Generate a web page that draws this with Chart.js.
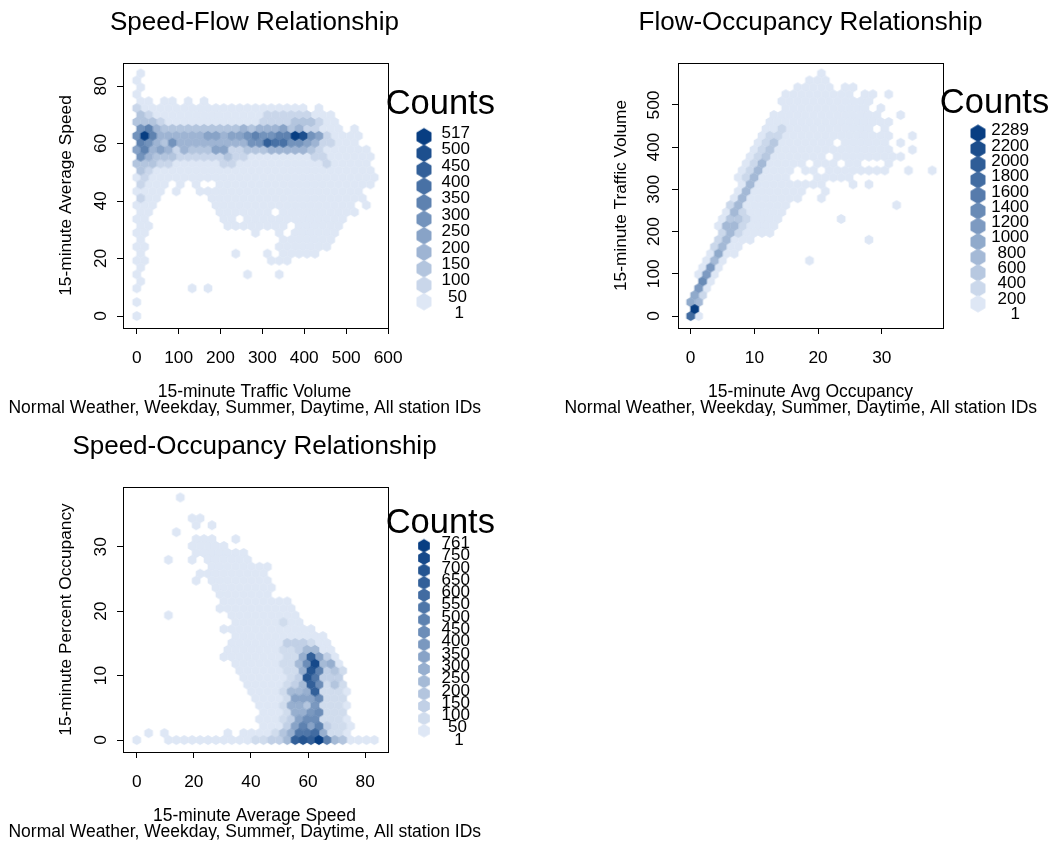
<!DOCTYPE html>
<html>
<head>
<meta charset="utf-8">
<title>Traffic hexbin plots</title>
<script src="https://cdn.jsdelivr.net/npm/chart.js@4"></script>
<style>
  html, body { margin: 0; padding: 0; background: #fff; overflow: hidden; width: 1052px; height: 846px; }
  canvas { position: absolute; }
</style>
</head>
<body>
<canvas id="speedFlow" width="509" height="416" style="left:0;top:0"></canvas>
<canvas id="flowOcc" width="511" height="416" style="left:555px;top:0"></canvas>
<canvas id="speedOcc" width="509" height="416" style="left:0;top:424px"></canvas>
<script>
"use strict";

// 1: data. Rows run top to bottom, one character per hex bin,
// '.' is an empty bin, otherwise the colour class (base 36, 0 = lightest)

// speed-flow
const sfTitle = 'Speed-Flow Relationship';
const sfXLabel = ['15-minute Traffic Volume', 'Normal Weather, Weekday, Summer, Daytime, All station IDs\u00a0\u00a0\u00a0\u00a0'];
const sfYLabel = '15-minute Average Speed';
const sfXTicks = [0, 100, 200, 300, 400, 500, 600];
const sfYTicks = [0, 20, 40, 60, 80];
const sfCounts = [517, 500, 450, 400, 350, 300, 250, 200, 150, 100, 50, 1];
const sfXBins = [0, 9.5, 18.9, 28.4, 37.8, 47.3, 56.7, 66.2, 75.6, 85.1, 94.5, 104, 113.4, 122.9, 132.3, 141.8, 151.2, 160.7, 170.1, 179.6, 189, 198.5, 207.9, 217.4, 226.8, 236.3, 245.7, 255.2, 264.6, 274.1, 283.5, 293, 302.4, 311.9, 321.3, 330.8, 340.2, 349.7, 359.1, 368.6, 378, 387.5, 396.9, 406.4, 415.8, 425.3, 434.7, 444.2, 453.6, 463.1, 472.5, 482, 491.4, 500.9, 510.3, 519.8, 529.2, 538.7, 548.1, 557.6, 567];
const sfYBins = [0, 2.41, 4.82, 7.23, 9.64, 12.05, 14.46, 16.87, 19.28, 21.69, 24.1, 26.51, 28.92, 31.33, 33.74, 36.15, 38.56, 40.97, 43.38, 45.79, 48.2, 50.61, 53.02, 55.43, 57.84, 60.25, 62.66, 65.07, 67.48, 69.89, 72.3, 74.71, 77.12, 79.53, 81.94, 84.35];
const sfRows = [
  "0",
  "0",
  "0",
  "0",
  "00.00.0.0",
  "1000000000000000000000.0",
  "2100000000000000111111000",
  "22210000000000001111222100",
  "56322222222223233342311000.0",
  "5a633333344344565566a95410000",
  "6532533333333355877554311000",
  "463431322244112223333321000000",
  "532221111112110000000011000000",
  "222110000001100000000000100000",
  "210000000000000000000000000000",
  "0100000000000000000000000000000",
  "1000.0.0..00000000000000000000",
  "0000.0..000000000000000000000",
  "100......00000000000000000000",
  "000.......000000000000000000.0",
  "00........0000000.0000000000",
  "00.........00.0000000000000",
  "00.........00000000.000000",
  "00.............0..0.000000",
  "0.................0000000",
  "00................0000000",
  "0...........0...0.00000",
  "00...............000",
  "0",
  "0.............0...0",
  "0",
  "0......0.0",
  "",
  "0",
  "",
  "0"
];

// flow-occupancy
const foTitle = 'Flow-Occupancy Relationship';
const foXLabel = ['15-minute Avg Occupancy', 'Normal Weather, Weekday, Summer, Daytime, All station IDs\u00a0\u00a0\u00a0\u00a0'];
const foYLabel = '15-minute Traffic Volume';
const foXTicks = [0, 10, 20, 30];
const foYTicks = [0, 100, 200, 300, 400, 500];
const foCounts = [2289, 2200, 2000, 1800, 1600, 1400, 1200, 1000, 800, 600, 400, 200, 1];
const foXBins = [0, 0.62, 1.24, 1.87, 2.49, 3.11, 3.73, 4.35, 4.97, 5.6, 6.22, 6.84, 7.46, 8.08, 8.7, 9.33, 9.95, 10.57, 11.19, 11.81, 12.43, 13.06, 13.68, 14.3, 14.92, 15.54, 16.16, 16.79, 17.41, 18.03, 18.65, 19.27, 19.89, 20.52, 21.14, 21.76, 22.38, 23, 23.62, 24.25, 24.87, 25.49, 26.11, 26.73, 27.35, 27.98, 28.6, 29.22, 29.84, 30.46, 31.08, 31.71, 32.33, 32.95, 33.57, 34.19, 34.81, 35.44, 36.06, 36.68, 37.3, 37.92];
const foYBins = [0, 16.42, 32.84, 49.26, 65.68, 82.1, 98.52, 114.94, 131.36, 147.78, 164.2, 180.62, 197.04, 213.46, 229.88, 246.3, 262.72, 279.14, 295.56, 311.98, 328.4, 344.82, 361.24, 377.66, 394.08, 410.5, 426.92, 443.34, 459.76, 476.18, 492.6, 509.02, 525.44, 541.86, 558.28, 574.7];
const foRows = [
  "................0",
  "...............000",
  ".............00000.00",
  "............000000000.00.0",
  "...........000000000000",
  "............00000000000.0",
  "..........00000000000000..0",
  "..........0000000000000000",
  ".........00100000000000.0",
  ".........01100000000000000..0",
  "........0120000000.000000.0",
  "........012000000000000000..0",
  ".......0120000000.000000000",
  ".......01300000.000.00...0",
  "......0130000.00.00000000..0..0",
  "......0130000...00000",
  "......03000000000...0.0",
  "......030000000..0",
  ".....030000000..0",
  ".....13000000.............0",
  "....03100000",
  "....02210000.......0",
  "...03310000",
  "....1310000",
  "...13000..............0",
  "...1300",
  "..0400",
  "..030..........0",
  ".050",
  ".050",
  ".60",
  ".50",
  "41",
  "43",
  "b",
  "80"
];

// speed-occupancy
const soTitle = 'Speed-Occupancy Relationship';
const soXLabel = ['15-minute Average Speed', 'Normal Weather, Weekday, Summer, Daytime, All station IDs\u00a0\u00a0\u00a0\u00a0'];
const soYLabel = '15-minute Percent Occupancy';
const soXTicks = [0, 20, 40, 60, 80];
const soYTicks = [0, 10, 20, 30];
const soCounts = [761, 750, 700, 650, 600, 550, 500, 450, 400, 350, 300, 250, 200, 150, 100, 50, 1];
const soXBins = [0, 1.39, 2.77, 4.16, 5.55, 6.94, 8.32, 9.71, 11.1, 12.48, 13.87, 15.26, 16.64, 18.03, 19.42, 20.81, 22.19, 23.58, 24.97, 26.35, 27.74, 29.13, 30.51, 31.9, 33.29, 34.68, 36.06, 37.45, 38.84, 40.22, 41.61, 43, 44.38, 45.77, 47.16, 48.55, 49.93, 51.32, 52.71, 54.09, 55.48, 56.87, 58.25, 59.64, 61.03, 62.42, 63.8, 65.19, 66.58, 67.96, 69.35, 70.74, 72.12, 73.51, 74.9, 76.29, 77.67, 79.06, 80.45, 81.83, 83.22];
const soYBins = [0, 1.08, 2.15, 3.23, 4.3, 5.38, 6.46, 7.53, 8.61, 9.68, 10.76, 11.84, 12.91, 13.99, 15.06, 16.14, 17.22, 18.29, 19.37, 20.44, 21.52, 22.6, 23.67, 24.75, 25.82, 26.9, 27.98, 29.05, 30.13, 31.2, 32.28, 33.36, 34.43, 35.51, 36.58, 37.66];
const soRows = [
  ".....0",
  "",
  "",
  ".......00",
  ".......0.0",
  ".....0",
  ".......000..0",
  ".......00000",
  ".......0000000",
  "....0..0.000000",
  ".........00000000",
  "........000000000",
  ".......0.00000000",
  "..........00000000",
  "..........0000000",
  "...........000000000",
  "..........0000000000",
  "....0.......000000000",
  "............000000100",
  "...........000000000000",
  "............000000000000",
  "............0000000222100",
  "...........00000001124400",
  "...........00000000115c620",
  "............0000001148e450",
  ".............000000115d9231",
  ".............00000012da222",
  "..............00000124c8131",
  "..............00001445c1110",
  "...............000016668111",
  "...............000155371110",
  "................00015578111",
  "...............000126881110",
  "................000269692110",
  ".0.0.......0.0000135aab5110",
  "0...000000000001122" + "4cdcf9430000"
];

// 2: helpers
const FONT = '"Liberation Sans", Arial, sans-serif';
const LIGHT = [222, 231, 245];
const DARK = [8, 62, 130];

function ramp(n) {
  let colors = [];
  for (let k = 0; k < n; k++) {
    let t = k / (n - 1);
    colors.push('rgb(' + LIGHT.map((v, j) => Math.round(v + (DARK[j] - v) * t)).join(',') + ')');
  }
  return colors;
}

function hexImage(color, radius) {
  let size = Math.ceil(radius * 2) + 4;
  let c = document.createElement('canvas');
  c.width = size;
  c.height = size;
  let g = c.getContext('2d');
  g.fillStyle = color;
  g.beginPath();
  for (let k = 0; k < 6; k++) {
    let a = Math.PI / 6 + k * Math.PI / 3;
    g.lineTo(size / 2 + radius * Math.cos(a), size / 2 + radius * Math.sin(a));
  }
  g.closePath();
  g.fill();
  return c;
}

function prepareData(rows, xBins, yBins, colors) {
  let levels = colors.map(() => []);
  rows.forEach((row, idx) => {
    let r = rows.length - 1 - idx;
    for (let i = 0; i < row.length; i++) {
      if (row[i] === '.') continue;
      levels[parseInt(row[i], 36)].push({ x: xBins[2 * i + (r % 2)], y: yBins[r] });
    }
  });
  let datasets = [];
  for (let k = colors.length - 1; k >= 0; k--) {
    datasets.push({
      data: levels[k],
      pointStyle: hexImage(colors[k], 5),
      pointRadius: 5,
      showLine: false
    });
  }
  return datasets;
}

// frame around the plot and the R style counts legend
function panelPlugin(counts, colors, lg) {
  return {
    id: 'panelExtras',
    afterDraw(chart) {
      let ctx = chart.ctx;
      let a = chart.chartArea;
      ctx.save();
      ctx.strokeStyle = '#000';
      ctx.lineWidth = 1;
      ctx.strokeRect(a.left + 0.5, a.top + 0.5, a.right - a.left, a.bottom - a.top);

      ctx.fillStyle = '#000';
      ctx.textAlign = 'center';
      ctx.textBaseline = 'middle';
      ctx.font = '34.5px ' + FONT;
      ctx.fillText('Counts', lg.titleX, lg.titleY);

      for (let k = 0; k < colors.length; k++) {
        let img = hexImage(colors[colors.length - 1 - k], lg.hexRadius);
        ctx.drawImage(img, lg.hexX - img.width / 2, lg.hexY + k * lg.hexStep - img.height / 2);
      }
      ctx.font = '17px ' + FONT;
      counts.forEach((v, k) => {
        let label = String(v);
        let w = ctx.measureText(label).width;
        ctx.fillText(label, lg.labelX - 0.18 * w, lg.labelY + k * lg.labelStep);
      });
      ctx.restore();
    }
  };
}

// 3: create the charts
function appendPanel(id, p) {
  let colors = ramp(p.counts.length - 1);
  let font = { family: FONT, size: 17.3 };
  new Chart(document.getElementById(id), {
    type: 'scatter',
    data: { datasets: prepareData(p.rows, p.xBins, p.yBins, colors) },
    plugins: [panelPlugin(p.counts, colors, p.legend)],
    options: {
      responsive: false,
      animation: false,
      layout: { padding: 0 },
      plugins: {
        legend: { display: false },
        tooltip: { enabled: false },
        title: {
          display: true,
          text: p.title,
          color: '#000',
          font: { family: FONT, size: 26, weight: 'normal', lineHeight: 1.2 },
          padding: { top: 7, bottom: 24.8 }
        },
        subtitle: {
          display: true,
          position: 'bottom',
          text: p.xLabel,
          color: '#000',
          font: { family: FONT, size: 17.5, lineHeight: 16 / 17.5 },
          padding: { top: 6, bottom: 0 }
        }
      },
      scales: {
        x: {
          min: p.xRange[0],
          max: p.xRange[1],
          afterFit(axis) { axis.height = 50; },
          afterBuildTicks(axis) { axis.ticks = p.xTicks.map(value => ({ value })); },
          grid: { drawOnChartArea: false, tickLength: 6, tickColor: '#000' },
          border: { display: false },
          ticks: { autoSkip: false, maxRotation: 0, color: '#000', padding: 13.5, font }
        },
        y: {
          min: p.yRange[0],
          max: p.yRange[1],
          afterFit(axis) { axis.width = 123; },
          afterBuildTicks(axis) { axis.ticks = p.yTicks.map(value => ({ value })); },
          grid: { drawOnChartArea: false, tickLength: 6, tickColor: '#000' },
          border: { display: false },
          title: { display: true, text: p.yLabel, color: '#000', font, padding: { top: 55.5, bottom: 0 } },
          ticks: { autoSkip: false, minRotation: 90, maxRotation: 90, crossAlign: 'center', color: '#000', padding: p.yTickPad, font }
        },
        // empty axis that keeps the room for the counts legend
        spacer: {
          type: 'linear',
          axis: 'y',
          position: 'right',
          afterFit(axis) { axis.width = p.legendRoom; },
          grid: { display: false },
          border: { display: false },
          ticks: { display: false }
        }
      }
    }
  });
}

appendPanel('speedFlow', {
  title: sfTitle, xLabel: sfXLabel, yLabel: sfYLabel, xTicks: sfXTicks, yTicks: sfYTicks,
  counts: sfCounts, rows: sfRows, xBins: sfXBins, yBins: sfYBins,
  xRange: [-32.7, 599.8], yRange: [-4.17, 88], legendRoom: 121, yTickPad: 6.4,
  legend: { titleX: 440.3, titleY: 104.5, hexX: 424, hexY: 136.7, hexStep: 16.5, hexRadius: 8.66, labelX: 460.9, labelY: 133.3, labelStep: 16.36 }
});

appendPanel('flowOcc', {
  title: foTitle, xLabel: foXLabel, yLabel: foYLabel, xTicks: foXTicks, yTicks: foYTicks,
  counts: foCounts, rows: foRows, xBins: foXBins, yBins: foYBins,
  xRange: [-1.99, 39.61], yRange: [-28.4, 599.5], legendRoom: 123, yTickPad: 3,
  legend: { titleX: 439.5, titleY: 103, hexX: 423, hexY: 133.3, hexStep: 15.5, hexRadius: 8.66, labelX: 461.9, labelY: 130.7, labelStep: 15.3 }
});

appendPanel('speedOcc', {
  title: soTitle, xLabel: soXLabel, yLabel: soYLabel, xTicks: soXTicks, yTicks: soYTicks,
  counts: soCounts, rows: soRows, xBins: soXBins, yBins: soYBins,
  xRange: [-4.8, 88], yRange: [-1.86, 39.29], legendRoom: 121, yTickPad: 6.4,
  legend: { titleX: 440.3, titleY: 99.7, hexX: 424, hexY: 121.7, hexStep: 12.33, hexRadius: 6.75, labelX: 460.8, labelY: 119.3, labelStep: 12.3 }
});
</script>
</body>
</html>
